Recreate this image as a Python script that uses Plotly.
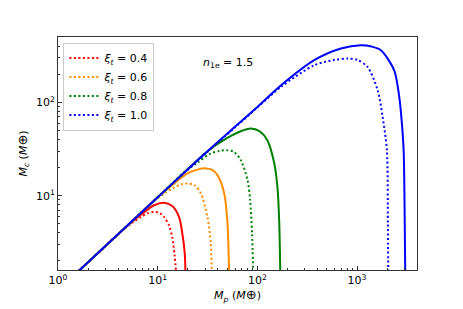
import plotly.graph_objects as go
import numpy as np

# ---- data ----
red_solid_mp = [1.6, 3, 5, 7, 9.2, 11.6, 14.1, 16.4, 17.7, 18.7, 19.0]
red_solid_mc = [1.55, 2.9, 4.8, 6.4, 7.9, 8.4, 7.7, 5.9, 3.9, 2.4, 1.5]
red_dot_mp = [1.6, 3, 4.5, 5.5, 6.8, 8.0, 9.2, 10.5, 11.6, 13.0, 14.0, 14.8, 15.3]
red_dot_mc = [1.55, 2.9, 4.3, 5.1, 5.9, 6.5, 6.7, 6.5, 5.9, 4.8, 3.6, 2.3, 1.5]

orange_solid_mp = [1.6, 5, 10, 14, 19.9, 25, 30.4, 35, 39.8, 46.5, 50.2, 51.4, 52.2]
orange_solid_mc = [1.55, 4.8, 9.6, 13.0, 17.3, 19.0, 19.6, 19.0, 16.6, 10.6, 5.05, 2.62, 1.5]
orange_dot_mp = [1.6, 5, 8, 10, 12, 14.5, 17, 19.9, 23.5, 27.1, 31.6, 34.1, 34.9]
orange_dot_mc = [1.55, 4.8, 7.7, 9.4, 10.8, 12.2, 13.2, 13.5, 12.9, 10.6, 5.9, 3.08, 1.5]

green_solid_mp = [1.6, 10, 25, 35, 43, 55, 70, 86, 105, 126, 148, 160, 166, 170]
green_solid_mc = [1.55, 9.6, 24, 32.5, 37.7, 44, 49.5, 52.4, 49, 39.3, 22.1, 11.5, 5, 1.5]
green_dot_mp = [1.6, 10, 18.4, 25, 34.1, 42, 50.2, 58, 68.3, 79.7, 84.7, 88.5, 91]
green_dot_mc = [1.55, 9.6, 17.8, 22.5, 28.3, 30.2, 30.7, 29.5, 24, 14.7, 9.0, 4, 1.5]

blue_solid_mp = [1.6, 10, 30, 60, 100, 172, 372, 689, 1094, 1400, 1738, 2362, 2654, 2805, 2937, 3000, 3050]
blue_solid_mc = [1.55, 9.6, 28.5, 55, 89, 151, 282, 376, 408, 395, 361, 220, 114, 64, 30.7, 8, 1.5]
blue_dot_mp = [1.6, 10, 30, 60, 100, 172, 372, 600, 805, 1000, 1277, 1610, 1807, 1995, 2040, 2060]
blue_dot_mc = [1.55, 9.6, 28, 54, 88, 146, 249, 285, 294, 285, 239, 135, 70, 30.7, 5, 1.5]

xi_labels = ["0.4", "0.6", "0.8", "1.0"]
colors = ["red", "darkorange", "green", "blue"]
n1e_label = "1.5"

x_major = [1, 10, 100, 1000]
x_major_text = ["10<sup>0</sup>", "10<sup>1</sup>", "10<sup>2</sup>", "10<sup>3</sup>"]
y_major = [10, 100]
y_major_text = ["10<sup>1</sup>", "10<sup>2</sup>"]

solid = [(red_solid_mp, red_solid_mc), (orange_solid_mp, orange_solid_mc),
         (green_solid_mp, green_solid_mc), (blue_solid_mp, blue_solid_mc)]
dotted = [(red_dot_mp, red_dot_mc), (orange_dot_mp, orange_dot_mc),
          (green_dot_mp, green_dot_mc), (blue_dot_mp, blue_dot_mc)]

fig = go.Figure()
for (x, y), c, lab in zip(dotted, colors, xi_labels):
    fig.add_trace(go.Scatter(x=x, y=y, mode="lines",
                             line=dict(color=c, width=2, dash="2px,2.5px", shape="spline", smoothing=0.8),
                             name=f"<i>ξ</i><sub><i>t</i></sub> = {lab}", showlegend=True))
for (x, y), c in zip(solid, colors):
    fig.add_trace(go.Scatter(x=x, y=y, mode="lines",
                             line=dict(color=c, width=2, shape="spline", smoothing=0.8),
                             showlegend=False))

minor_vals = [m * 10 ** e for e in range(0, 4) for m in range(2, 10)]

font = "DejaVu Sans"
axis_common = dict(type="log", ticks="inside", ticklen=4, tickwidth=1, tickcolor="#333",
                   showline=True, linecolor="#333", linewidth=1, mirror=True,
                   showgrid=False, zeroline=False, automargin=False,
                   minor=dict(ticks="inside", ticklen=2, tickcolor="#333", showgrid=False,
                              tickmode="array", tickvals=minor_vals),
                   tickfont=dict(family=font, size=11, color="black"))

earth = "<span style='font-size:13px'>⊕</span>"

# page body adds an 8px offset; figure sized to compensate
fig.update_layout(
    width=455, height=301,
    margin=dict(l=50, r=46, t=29, b=39),
    paper_bgcolor="white", plot_bgcolor="white",
    font=dict(family=font, size=11, color="black"),
    showlegend=True,
    legend=dict(x=0.015, y=0.976, xanchor="left", yanchor="top",
                bordercolor="#cccccc", borderwidth=1, bgcolor="rgba(255,255,255,0.8)",
                font=dict(family=font, size=11), tracegroupgap=0, itemwidth=30),
    xaxis=dict(range=[0, np.log10(4000)], tickmode="array", tickvals=x_major, ticktext=x_major_text,
               title=dict(text=f"<i>M</i><sub><i>p</i></sub> (<i>M</i>{earth})", standoff=3,
                          font=dict(family=font, size=11)),
               **axis_common),
    yaxis=dict(range=[np.log10(1.6), np.log10(500)], tickmode="array", tickvals=y_major, ticktext=y_major_text,
               title=dict(text=f"<i>M</i><sub><i>c</i></sub> (<i>M</i>{earth})", standoff=6,
                          font=dict(family=font, size=11)),
               **axis_common),
    annotations=[dict(x=0.474, y=0.926, xref="paper", yref="paper",
                      text=f"<i>n</i><sub>1e</sub> = {n1e_label}", showarrow=False,
                      font=dict(family=font, size=11))],
)

fig.write_html("out.html")
